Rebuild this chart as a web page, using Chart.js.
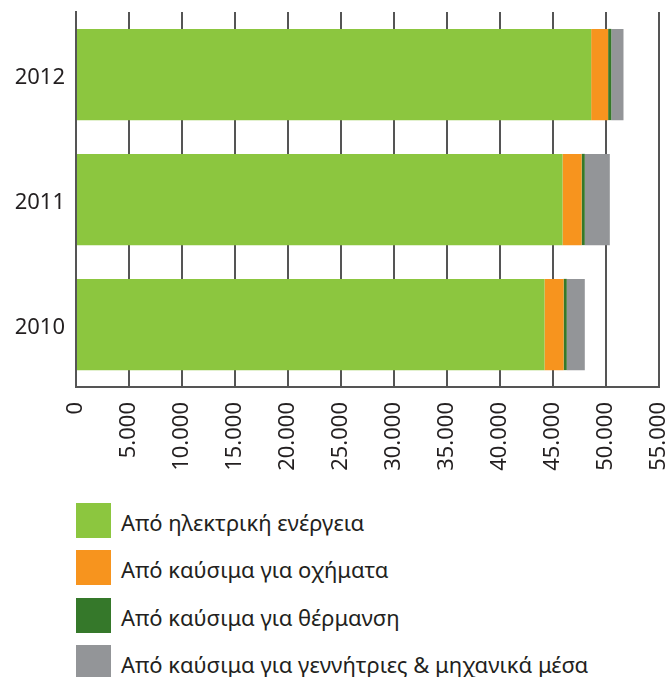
<!DOCTYPE html>
<html>
<head>
<meta charset="utf-8">
<script src="https://cdn.jsdelivr.net/npm/chart.js@4"></script>
<style>
  body { margin: 0; background: #fff; font-family: 'Noto Sans', sans-serif; }
  #wrap { position: relative; width: 670px; height: 677px; overflow: hidden; }
  #chart-wrap { position: absolute; left: 0; top: 0; width: 670px; height: 480px; }
  #legend { position: absolute; left: 76px; top: 503px; }
  .leg-row { display: flex; align-items: center; height: 47.3px; }
  .leg-box { width: 35px; height: 35px; flex: none; align-self: flex-start; }
  .leg-txt { margin-left: 10px; font-size: 22px; color: #231f20; align-self: flex-start; line-height: 39px; white-space: nowrap; }
</style>
</head>
<body>
<div id="wrap">
  <div id="chart-wrap"><canvas id="chart"></canvas></div>
  <div id="legend"></div>
</div>
<script>
// δεδομένα
const years = ['2012', '2011', '2010'];
const seriesNames = [
  'Από ηλεκτρική ενέργεια',
  'Από καύσιμα για οχήματα',
  'Από καύσιμα για θέρμανση',
  'Από καύσιμα για γεννήτριες & μηχανικά μέσα'
];
const electricity = [48600, 45900, 44200];
const vehicles    = [1600, 1800, 1800];
const heating     = [300, 300, 300];
const generators  = [1150, 2360, 1700];
const xTicks = [0, 5000, 10000, 15000, 20000, 25000, 30000, 35000, 40000, 45000, 50000, 55000];

const colors = ['#8cc63f', '#f7941e', '#35782a', '#939598'];
const values = [electricity, vehicles, heating, generators];

const gridColor = '#555555';
const textColor = '#231f20';
const fontFam = "'Noto Sans', sans-serif";

function fmt(v) {
  return String(v).replace(/\B(?=(\d{3})+(?!\d))/g, '.');
}

function noPad(s) {
  s.paddingLeft = 0; s.paddingRight = 0; s.paddingTop = 0; s.paddingBottom = 0;
}

new Chart(document.getElementById('chart'), {
  type: 'bar',
  data: {
    labels: years,
    datasets: seriesNames.map((name, i) => ({
      label: name,
      data: values[i],
      backgroundColor: colors[i],
      borderWidth: 0,
      barPercentage: 0.73,
      categoryPercentage: 1
    }))
  },
  options: {
    indexAxis: 'y',
    responsive: true,
    maintainAspectRatio: false,
    animation: false,
    layout: { padding: { top: 12, right: 11, left: 0, bottom: 0 } },
    plugins: { legend: { display: false }, tooltip: { enabled: false } },
    scales: {
      x: {
        stacked: true,
        min: 0,
        max: 55000,
        afterBuildTicks: s => { s.ticks = xTicks.map(v => ({ value: v })); },
        afterFit: s => { s.height = 93; noPad(s); },
        ticks: {
          minRotation: 90,
          maxRotation: 90,
          padding: 15,
          color: textColor,
          font: { family: fontFam, size: 22 },
          callback: v => fmt(v)
        },
        grid: { color: gridColor, lineWidth: 2, drawTicks: false },
        border: { color: gridColor, width: 2 }
      },
      y: {
        stacked: true,
        afterFit: s => { s.width = 76; noPad(s); },
        ticks: {
          padding: 11,
          labelOffset: 3,
          color: textColor,
          font: { family: fontFam, size: 22 }
        },
        grid: { display: false, drawTicks: false },
        border: { color: gridColor, width: 2 }
      }
    }
  }
});

// υπόμνημα
const legend = document.getElementById('legend');
seriesNames.forEach((name, i) => {
  const row = document.createElement('div');
  row.className = 'leg-row';
  row.innerHTML = '<div class="leg-box" style="background:' + colors[i] + '"></div><div class="leg-txt">' + name + '</div>';
  legend.appendChild(row);
});
</script>
</body>
</html>
